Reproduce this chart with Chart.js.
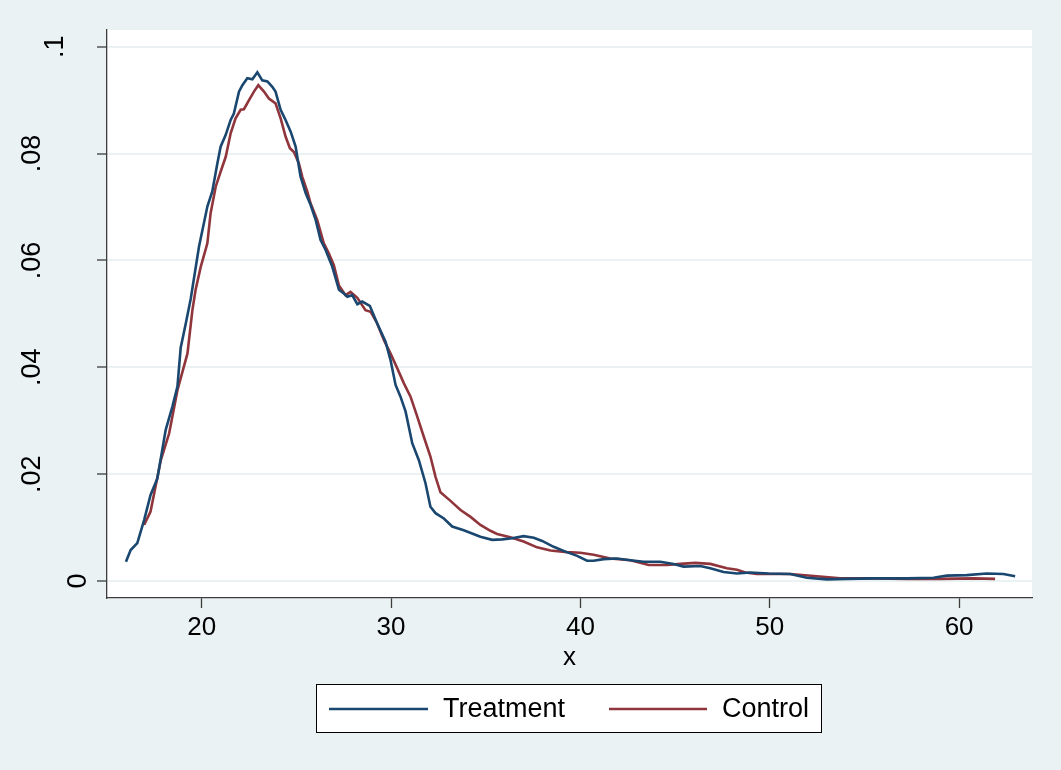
<!DOCTYPE html>
<html>
<head>
<meta charset="utf-8">
<script src="https://cdn.jsdelivr.net/npm/chart.js@4"></script>
<style>
  html, body { margin:0; padding:0; background:#eaf2f3; }
  #wrap { width:1061px; height:770px; }
</style>
</head>
<body>
<div id="wrap"><canvas id="c" width="1061" height="770"></canvas></div>
<script>
// ---- data ----
const treatmentX = [16.0,16.25,16.6,16.96,17.3,17.66,18.1,18.45,18.72,18.89,19.16,19.42,19.86,20.3,20.56,20.83,21.0,21.27,21.53,21.7,21.97,22.15,22.41,22.68,22.94,23.2,23.47,23.73,23.9,24.17,24.43,24.7,24.96,25.22,25.49,25.75,26.02,26.28,26.54,26.9,27.25,27.51,27.69,27.95,28.22,28.48,28.88,29.27,29.71,29.97,30.24,30.5,30.77,31.12,31.47,31.82,32.08,32.35,32.79,33.23,33.84,34.28,34.72,35.34,35.87,36.4,37.0,37.54,37.98,38.59,39.21,39.83,40.35,40.7,41.23,41.94,42.64,43.34,44.22,44.92,45.45,46.33,46.86,47.56,48.27,48.97,49.94,51.08,51.96,53.02,54.07,55.48,57.24,58.65,59.35,60.41,61.46,62.34,62.96];
const treatmentY = [0.0036,0.0058,0.0071,0.0114,0.0161,0.0192,0.0283,0.0326,0.0364,0.0436,0.0482,0.0528,0.0626,0.0701,0.0729,0.0782,0.0813,0.0835,0.0863,0.0875,0.0916,0.0928,0.0941,0.0939,0.0952,0.0937,0.0935,0.0925,0.0916,0.0882,0.0863,0.0841,0.0813,0.0757,0.0726,0.0704,0.0676,0.0638,0.0620,0.0588,0.0545,0.0538,0.0532,0.0535,0.0518,0.0523,0.0515,0.0482,0.0448,0.0414,0.0367,0.0345,0.0317,0.0258,0.0226,0.0183,0.0139,0.0127,0.0117,0.0102,0.0095,0.0089,0.0083,0.0077,0.0078,0.0080,0.0084,0.0081,0.0075,0.0064,0.0055,0.0047,0.0038,0.0038,0.0041,0.0042,0.0039,0.0036,0.0036,0.0032,0.0027,0.0028,0.0024,0.0017,0.0014,0.0016,0.0014,0.0013,0.0006,0.0003,0.0004,0.0005,0.0005,0.0006,0.0010,0.0011,0.0014,0.0013,0.0009];
const controlX = [16.96,17.3,17.84,18.28,18.72,19.25,19.51,19.68,19.95,20.3,20.47,20.74,21.0,21.27,21.53,21.79,22.06,22.23,22.5,22.76,22.99,23.29,23.55,23.9,24.17,24.43,24.66,24.87,25.13,25.31,25.58,25.75,26.1,26.45,26.72,26.98,27.25,27.6,27.86,28.22,28.65,28.92,29.27,29.62,29.97,30.33,30.68,31.03,31.38,31.73,32.08,32.35,32.61,33.14,33.67,34.2,34.72,35.25,35.6,36.3,37.0,37.71,38.42,39.3,40.0,40.7,41.58,42.64,43.61,44.58,45.28,46.07,46.86,47.74,48.27,48.71,49.32,50.03,51.08,52.49,53.72,55.48,57.24,59.0,60.76,61.9];
const controlY = [0.0105,0.0130,0.0226,0.0276,0.0357,0.0426,0.0507,0.0545,0.0588,0.0632,0.0688,0.0738,0.0766,0.0794,0.0838,0.0866,0.0882,0.0883,0.0900,0.0916,0.0928,0.0916,0.0903,0.0894,0.0866,0.0832,0.0810,0.0803,0.0782,0.0757,0.0729,0.0707,0.0676,0.0632,0.0613,0.0591,0.0553,0.0535,0.0541,0.0530,0.0507,0.0504,0.0482,0.0451,0.0426,0.0398,0.0370,0.0345,0.0308,0.0270,0.0233,0.0195,0.0166,0.0150,0.0133,0.0120,0.0105,0.0094,0.0088,0.0082,0.0074,0.0063,0.0057,0.0054,0.0053,0.0049,0.0042,0.0039,0.0030,0.0030,0.0032,0.0034,0.0032,0.0024,0.0021,0.0016,0.0013,0.0013,0.0013,0.0009,0.0005,0.0005,0.0004,0.0004,0.0005,0.0004];
const seriesNames = ['Treatment', 'Control'];
const xTickValues = [20, 30, 40, 50, 60];
const yTickValues = [0, 0.02, 0.04, 0.06, 0.08, 0.1];
const yTickLabels = ['0', '.02', '.04', '.06', '.08', '.1'];
const xTitle = 'x';

// ---- styling ----
const NAVY = '#1a476f', MAROON = '#90353b', BG = '#eaf2f3', AXIS = '#3c3c3c';
const FONT = 'Liberation Sans, Arial, Helvetica, sans-serif';
// horizontal nudges (px) of the rotated y tick labels, as placed in the reference
const yLabelNudge = {'0': 40, '.1': 17};
const yLabelNudgeDefault = -6;

function pts(xs, ys) { return xs.map((x, i) => ({x: x, y: ys[i]})); }

const bgPlugin = {
  id: 'bg',
  beforeDraw(chart) {
    const {ctx, chartArea: a} = chart;
    ctx.save();
    ctx.fillStyle = BG;
    ctx.fillRect(0, 0, chart.width, chart.height);
    ctx.fillStyle = '#ffffff';
    ctx.fillRect(a.left, a.top, a.right - a.left, a.bottom - a.top);
    ctx.restore();
    // nudge rotated y labels horizontally
    const ys = chart.scales.y;
    const items = ys.getLabelItems();
    if (!items._nudged) {
      items.forEach(it => {
        const n = (it.label in yLabelNudge) ? yLabelNudge[it.label] : yLabelNudgeDefault;
        it.options.translation[0] += n;
      });
      items._nudged = true;
    }
  }
};

const legendPlugin = {
  id: 'stataLegend',
  afterDraw(chart) {
    const ctx = chart.ctx;
    ctx.save();
    ctx.fillStyle = '#ffffff';
    ctx.fillRect(316.5, 684.5, 505, 48);
    ctx.strokeStyle = '#000000';
    ctx.lineWidth = 1;
    ctx.strokeRect(316.5, 684.5, 505, 48);
    const items = [
      {x0: 329, x1: 428, tx: 443, color: NAVY, text: chart.data.datasets[0].label},
      {x0: 609, x1: 707, tx: 722, color: MAROON, text: chart.data.datasets[1].label}
    ];
    ctx.font = '27px ' + FONT;
    ctx.textBaseline = 'middle';
    ctx.textAlign = 'left';
    items.forEach(it => {
      ctx.strokeStyle = it.color;
      ctx.lineWidth = 2.6;
      ctx.beginPath();
      ctx.moveTo(it.x0, 709);
      ctx.lineTo(it.x1, 709);
      ctx.stroke();
      ctx.fillStyle = '#000000';
      ctx.fillText(it.text, it.tx, 710);
    });
    ctx.restore();
  }
};

new Chart(document.getElementById('c'), {
  type: 'line',
  data: {
    datasets: [
      {label: seriesNames[0], data: pts(treatmentX, treatmentY), borderColor: NAVY, borderWidth: 2.6, pointRadius: 0, tension: 0, fill: false},
      {label: seriesNames[1], data: pts(controlX, controlY), borderColor: MAROON, borderWidth: 2.6, pointRadius: 0, tension: 0, fill: false}
    ]
  },
  options: {
    responsive: false,
    animation: false,
    devicePixelRatio: 1,
    layout: {padding: {top: 30, right: 29, left: 0, bottom: 0}},
    plugins: {legend: {display: false}, tooltip: {enabled: false}},
    scales: {
      x: {
        type: 'linear', position: 'bottom', min: 15.0, max: 63.85,
        afterBuildTicks(s) { s.ticks = xTickValues.map(v => ({value: v})); },
        afterFit(s) { s.height = 172; s.paddingLeft = 0; s.paddingRight = 0; },
        grid: {drawOnChartArea: false, drawTicks: true, tickLength: 10, tickColor: AXIS, tickWidth: 1.3},
        border: {display: true, color: AXIS, width: 1.3},
        ticks: {color: '#000', font: {family: FONT, size: 26}, padding: 4, maxRotation: 0, minRotation: 0,
                callback: v => String(v)},
        title: {display: true, text: xTitle, color: '#000', font: {family: FONT, size: 26}, padding: {top: 0, bottom: 97}}
      },
      y: {
        type: 'linear', position: 'left', min: -0.00318, max: 0.10313,
        afterBuildTicks(s) { s.ticks = yTickValues.map(v => ({value: v})); },
        afterFit(s) { s.width = 107; s.paddingTop = 0; s.paddingBottom = 0; },
        grid: {color: BG, lineWidth: 2, drawTicks: true, tickLength: 10, tickColor: AXIS, tickWidth: 1.3},
        border: {display: true, color: AXIS, width: 1.3},
        ticks: {color: '#000', font: {family: FONT, size: 27}, padding: 40, minRotation: 90, maxRotation: 90,
                crossAlign: 'center',
                callback: (v) => { const i = yTickValues.findIndex(t => Math.abs(t - v) < 1e-9); return i >= 0 ? yTickLabels[i] : ''; }}
      }
    }
  },
  plugins: [bgPlugin, legendPlugin]
});
</script>
</body>
</html>
